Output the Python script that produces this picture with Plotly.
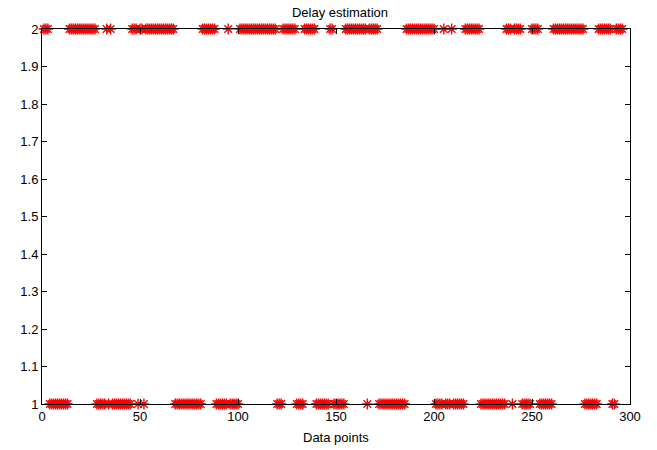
import plotly.graph_objects as go

# Delay estimate per data point (index 1..296)
delay = [
    2,2,2,1,1,1,1,1,1,1,
    1,1,1,2,2,2,2,2,2,2,
    2,2,2,2,2,2,2,1,1,1,
    1,1,2,1,2,1,1,1,1,1,
    1,1,1,1,1,2,2,2,1,2,
    2,1,2,2,2,2,2,2,2,2,
    2,2,2,2,2,2,2,1,1,1,
    1,1,1,1,1,1,1,1,1,1,
    1,2,2,2,2,2,2,2,1,1,
    1,1,1,1,2,1,1,1,1,1,
    2,2,2,2,2,2,2,2,2,2,
    2,2,2,2,2,2,2,2,2,1,
    1,1,2,2,2,2,2,2,2,1,
    1,1,1,2,2,2,2,2,2,1,
    1,1,1,1,1,1,2,2,1,1,
    1,1,1,1,2,2,2,2,2,2,
    2,2,2,2,2,1,2,2,2,2,
    2,1,1,1,1,1,1,1,1,1,
    1,1,1,1,1,2,2,2,2,2,
    2,2,2,2,2,2,2,2,2,2,
    1,1,1,1,2,1,1,1,2,1,
    1,1,1,1,1,2,2,2,2,2,
    2,2,2,1,1,1,1,1,1,1,
    1,1,1,1,1,1,2,2,2,1,
    2,2,2,2,1,1,1,1,1,2,
    2,2,2,1,1,1,1,1,1,1,
    2,2,2,2,2,2,2,2,2,2,
    2,2,2,2,2,2,1,1,1,1,
    1,1,1,2,2,2,2,2,2,2,
    1,1,2,2,2,2,
]
points = list(range(1, len(delay) + 1))

x_ticks = [0, 50, 100, 150, 200, 250, 300]
y_ticks = [1, 1.1, 1.2, 1.3, 1.4, 1.5, 1.6, 1.7, 1.8, 1.9, 2]
y_labels = ["1", "1.1", "1.2", "1.3", "1.4", "1.5", "1.6", "1.7", "1.8", "1.9", "2"]

fig = go.Figure()
fig.add_trace(go.Scatter(
    x=points, y=delay, mode="markers",
    marker=dict(symbol="asterisk-open", size=9, color="red",
                line=dict(color="red", width=1.4)),
    cliponaxis=False, showlegend=False,
))

font = dict(family="Liberation Sans, Arial, sans-serif", size=13, color="black")
axis_common = dict(showline=True, linecolor="black", linewidth=1, mirror="ticks",
                   ticks="inside", ticklen=5, tickcolor="black", showgrid=False,
                   zeroline=False, tickfont=font, automargin=False)

fig.update_layout(
    width=657, height=450,
    margin=dict(l=42, r=27, t=29, b=46),
    paper_bgcolor="white", plot_bgcolor="white",
    font=font,
    title=dict(text="Delay estimation", x=340 / 657, xanchor="center",
               y=1 - 12 / 450, yanchor="middle", yref="container",
               font=dict(family="Liberation Sans, Arial, sans-serif", size=13, color="black")),
    xaxis=dict(range=[0, 300], tickvals=x_ticks, ticktext=[str(v) for v in x_ticks],
               **axis_common),
    yaxis=dict(range=[1, 2], tickvals=y_ticks, ticktext=y_labels, **axis_common),
    annotations=[dict(text="Data points", xref="paper", yref="paper", x=0.5, y=0,
                      xanchor="center", yanchor="middle", yshift=-33,
                      showarrow=False, font=font)],
)

fig.write_html("out.html")
